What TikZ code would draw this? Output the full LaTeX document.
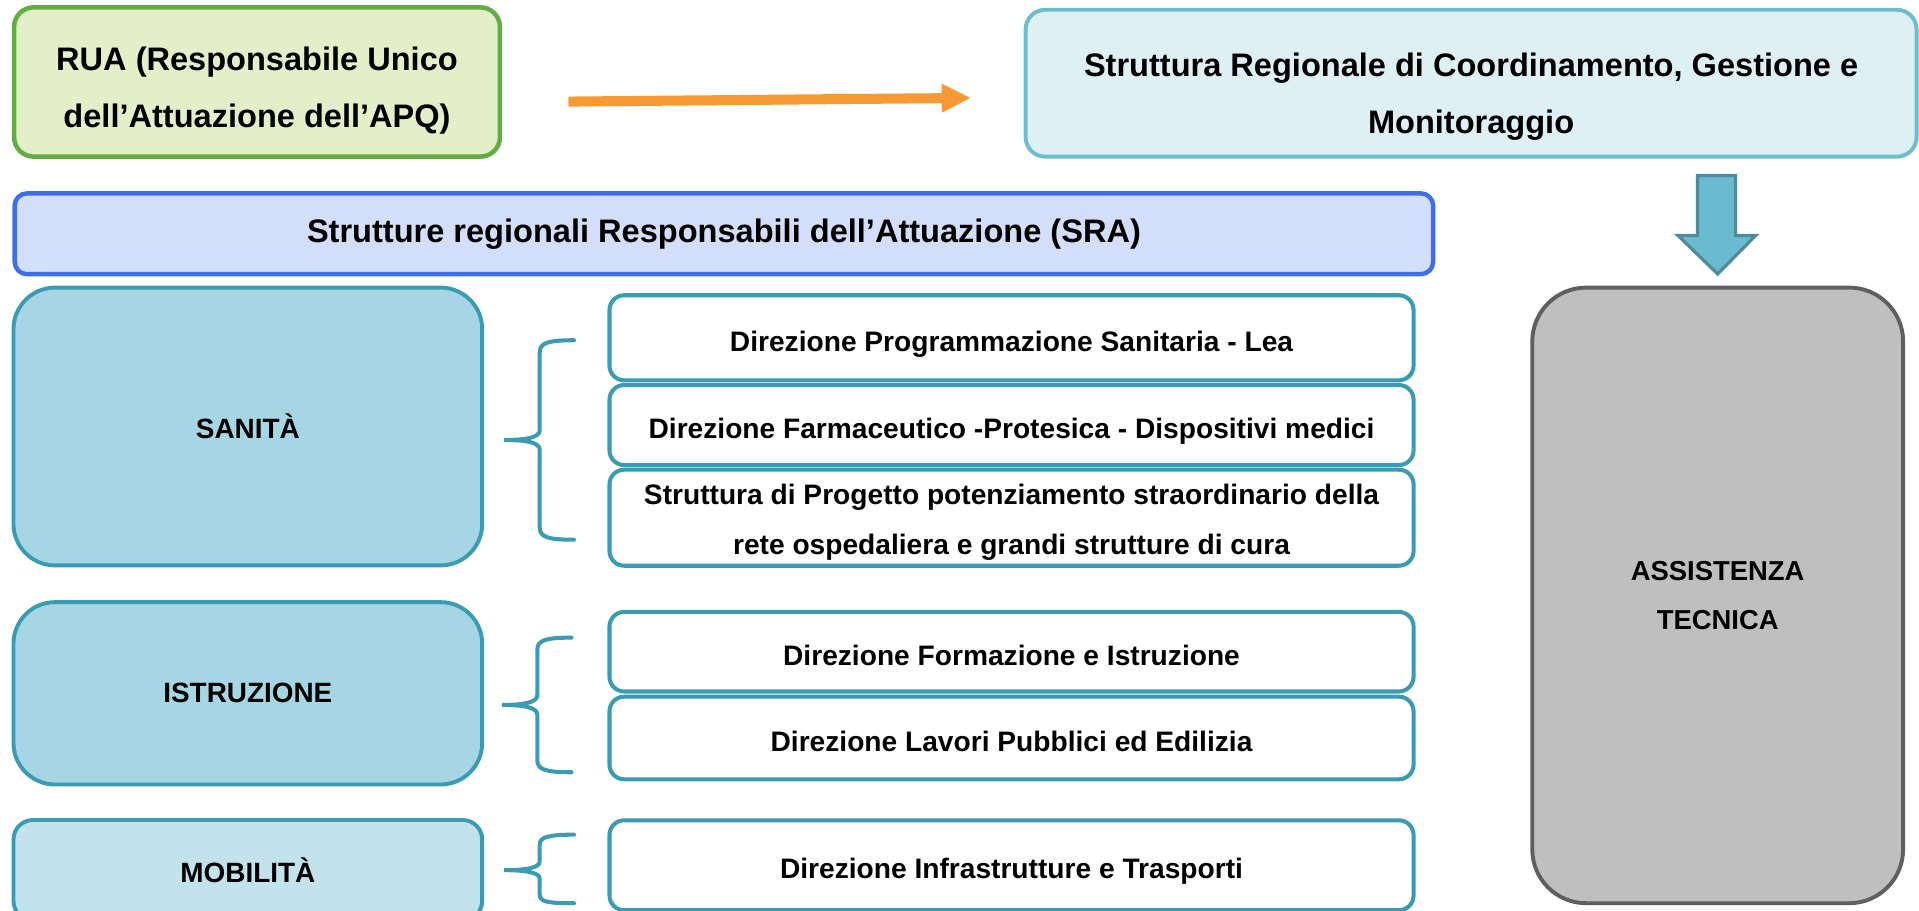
\documentclass[tikz,border=0pt]{standalone}
\usepackage{fontspec}
\setmainfont{Liberation Sans}
\usetikzlibrary{arrows.meta}

\definecolor{ruafill}{HTML}{E2EFC9}
\definecolor{rualine}{HTML}{62AE44}
\definecolor{scrfill}{HTML}{DFF0F5}
\definecolor{scrline}{HTML}{6DBDD0}
\definecolor{srafill}{HTML}{D3DEFB}
\definecolor{sraline}{HTML}{3E6EEA}
\definecolor{catfill}{HTML}{A6D6E3}
\definecolor{catfilllight}{HTML}{C2E3EC}
\definecolor{catline}{HTML}{3A9BB3}
\definecolor{atfill}{HTML}{BFBFBF}
\definecolor{atline}{HTML}{5F5F5F}
\definecolor{arroworange}{HTML}{F79A33}
\definecolor{arrowblue}{HTML}{6BBBD0}
\definecolor{arrowblueline}{HTML}{4E8B9B}

\begin{document}
\begin{tikzpicture}[x=0.5pt, y=-0.5pt]
 \tikzstyle{headbox}=[rectangle, rounded corners=8pt, inner sep=0pt, align=center, text=black, font=\bfseries\fontsize{13.3}{23}\selectfont]
 \tikzstyle{headtext}=[inner sep=0pt, align=center, text=black, font=\bfseries\fontsize{13.3}{23}\selectfont]
 \tikzstyle{catbox}=[rectangle, rounded corners=17pt, draw=catline, fill=catfill, line width=1.6pt, inner sep=0pt, minimum width=191.5pt, font=\bfseries\fontsize{11.4}{20}\selectfont]
 \tikzstyle{dirbox}=[rectangle, rounded corners=6pt, draw=catline, fill=white, line width=1.65pt, inner sep=0pt, minimum width=328.5pt, text height=11pt, text depth=0pt, font=\bfseries\fontsize{11.5}{20.5}\selectfont]
 \tikzstyle{dirtext}=[inner sep=0pt, align=center, font=\bfseries\fontsize{11.5}{20.5}\selectfont]
 \tikzstyle{atbox}=[rectangle, rounded corners=22pt, draw=atline, fill=atfill, line width=1.6pt, inner sep=0pt, align=center, font=\bfseries\fontsize{11.2}{20}\selectfont]
 \tikzstyle{orangearrow}=[-{Triangle[length=12pt, width=11pt]}, draw=arroworange, line width=4.1pt]
 \tikzstyle{bluearrow}=[draw=arrowblueline, fill=arrowblue, line width=1.3pt, line join=miter]
 \tikzstyle{bracestyle}=[draw=catline, line width=1.65pt, line cap=round]
 \clip (0,0) rectangle (1568,744);
 %
 \node[headbox, draw=rualine, fill=ruafill, line width=1.85pt, minimum width=198.5pt, minimum height=61pt,
   label={[headtext, yshift=-3.5pt]center:{RUA (Responsabile Unico\\dell’Attuazione dell’APQ)}}] (rua) at (210,67) {};
 \node[headbox, draw=scrline, fill=scrfill, line width=1.6pt, minimum width=364pt, minimum height=60pt,
   label={[headtext, yshift=-5.5pt]center:{Struttura Regionale di Coordinamento, Gestione e\\Monitoraggio}}] (scr) at (1202,68) {};
 \node[headbox, rounded corners=5pt, draw=sraline, fill=srafill, line width=1.8pt, minimum width=579.5pt, minimum height=33pt] (sra) at (591.5,191) {Strutture regionali Responsabili dell’Attuazione (SRA)};
 %
 \node[catbox, minimum height=113.5pt] (san) at (202.5,348.5) {SANITÀ};
 \node[catbox, minimum height=74.5pt] (ist) at (202.5,566.5) {ISTRUZIONE};
 \node[catbox, rounded corners=8pt, fill=catfilllight, minimum height=41pt] (mob) at (202.5,711) {MOBILITÀ};
 %
 \node[dirbox, minimum height=34.75pt] (dps) at (826.5,276) {Direzione Programmazione Sanitaria - Lea};
 \node[dirbox, minimum height=32.7pt] (dfp) at (826.5,347.3) {Direzione Farmaceutico -Protesica - Dispositivi medici};
 \node[dirbox, minimum height=39.25pt,
   label={[dirtext, yshift=-2pt]center:{Struttura di Progetto potenziamento straordinario della\\rete ospedaliera e grandi strutture di cura}}] (spp) at (826.5,423) {};
 \node[dirbox, minimum height=32.5pt] (dfi) at (826.5,532.5) {Direzione Formazione e Istruzione};
 \node[dirbox, minimum height=33.75pt] (dlp) at (826.5,603) {Direzione Lavori Pubblici ed Edilizia};
 \node[dirbox, minimum height=36.75pt] (dit) at (826.5,707) {Direzione Infrastrutture e Trasporti};
 %
 \node[atbox, minimum width=151.5pt, minimum height=251.5pt] (at) at (1403.5,486.5) {ASSISTENZA\\TECNICA};
 %%
 \draw[orangearrow] ([xshift=27pt, yshift=-8pt]rua.east) -- ([xshift=-21.5pt, yshift=-6pt]scr.west);
 \draw[bluearrow] ([yshift=4.75pt]at.north) -- ++(-32.5,-31.5) -- ++(16,0) -- ++(0,-49) -- ++(31,0) -- ++(0,49) -- ++(16.5,0) -- cycle;
 %
 \draw[bracestyle] (469,278) .. controls (448,278) and (441,280) .. (441,288) -- (441,351.5) .. controls (441,357.5) and (430,359.5) .. (412,359.5) .. controls (430,359.5) and (441,361.5) .. (441,367.5) -- (441,431) .. controls (441,439) and (448,441) .. (469,441);
 \draw[bracestyle] (467,521) .. controls (446,521) and (439,523) .. (439,531) -- (439,568) .. controls (439,574) and (428,576) .. (410,576) .. controls (428,576) and (439,578) .. (439,584) -- (439,621) .. controls (439,629) and (446,631) .. (467,631);
 \draw[bracestyle] (469,682) .. controls (448,682) and (441,684) .. (441,690) -- (441,704) .. controls (441,709) and (430,711) .. (412,711) .. controls (430,711) and (441,713) .. (441,718) -- (441,731) .. controls (441,737) and (448,738) .. (469,738);
\end{tikzpicture}
\end{document}
